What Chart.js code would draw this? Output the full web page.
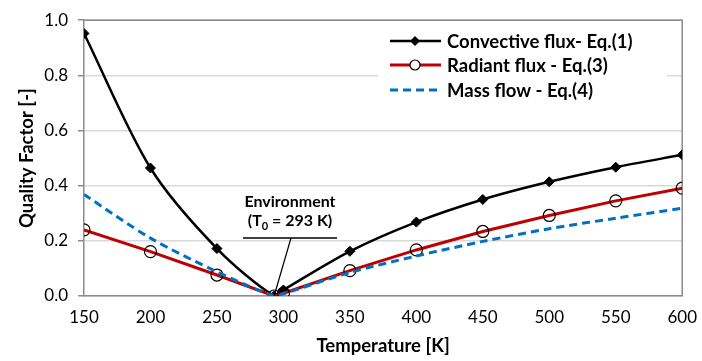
<!DOCTYPE html>
<html>
<head>
<meta charset="utf-8">
<script src="https://cdn.jsdelivr.net/npm/chart.js@4"></script>
<style>
  html, body { margin: 0; padding: 0; background: #fff; }
  #wrap { width: 702px; height: 361px; }
</style>
</head>
<body>
<div id="wrap"><canvas id="chart" width="702" height="361"></canvas></div>
<script>
  const TEMPS = [150, 200, 250, 293, 300, 350, 400, 450, 500, 550, 600];
  const CONVECTIVE = [0.952, 0.464, 0.172, 0.0, 0.022, 0.162, 0.268, 0.350, 0.414, 0.467, 0.512];
  const RADIANT = [0.240, 0.161, 0.076, 0.0, 0.010, 0.092, 0.167, 0.234, 0.292, 0.345, 0.391];
  const MASS = [0.368, 0.210, 0.088, 0.0, 0.008, 0.085, 0.145, 0.198, 0.244, 0.282, 0.318];
  const X_TICKS = [150, 200, 250, 300, 350, 400, 450, 500, 550, 600];
  const Y_TICKS = [0, 0.2, 0.4, 0.6, 0.8, 1.0];
  const LEGEND = ["Convective flux- Eq.(1)", "Radiant flux - Eq.(3)", "Mass flow - Eq.(4)"];

  const FONT = "Lato, 'Open Sans', sans-serif";
  const GRID = "#d9d9d9";
  const AXIS = "#8c8c8c";

  function points(ys) {
    return TEMPS.map((t, i) => ({ x: t, y: ys[i] }));
  }

  const extras = {
    id: "extras",
    afterDraw(chart) {
      const ctx = chart.ctx;
      const xs = chart.scales.x;
      const ys = chart.scales.y;

      // legend box
      ctx.save();
      ctx.fillStyle = "#fff";
      ctx.fillRect(378, 22, 289, 86);
      const rows = [41, 65, 90];
      ctx.font = "bold 18.5px " + FONT;
      ctx.textBaseline = "middle";
      ctx.fillStyle = "#000";
      rows.forEach((y, i) => ctx.fillText(LEGEND[i], 447, y + 1));

      ctx.lineWidth = 2.5;
      ctx.strokeStyle = "#000";
      ctx.beginPath(); ctx.moveTo(390, rows[0]); ctx.lineTo(441, rows[0]); ctx.stroke();
      ctx.fillStyle = "#000";
      ctx.beginPath();
      ctx.moveTo(415, rows[0] - 5); ctx.lineTo(420, rows[0]); ctx.lineTo(415, rows[0] + 5); ctx.lineTo(410, rows[0]);
      ctx.closePath(); ctx.fill();

      ctx.lineWidth = 3;
      ctx.strokeStyle = "#c00000";
      ctx.beginPath(); ctx.moveTo(390, rows[1]); ctx.lineTo(441, rows[1]); ctx.stroke();
      ctx.fillStyle = "#fff";
      ctx.strokeStyle = "#000";
      ctx.lineWidth = 1.2;
      ctx.beginPath(); ctx.arc(415, rows[1], 5, 0, Math.PI * 2); ctx.fill(); ctx.stroke();

      ctx.lineWidth = 3;
      ctx.strokeStyle = "#0070c0";
      ctx.setLineDash([8, 5]);
      ctx.beginPath(); ctx.moveTo(390, rows[2]); ctx.lineTo(441, rows[2]); ctx.stroke();
      ctx.setLineDash([]);

      // environment annotation
      const px = xs.getPixelForValue(293);
      const py = ys.getPixelForValue(0);
      ctx.fillStyle = "#000";
      ctx.textAlign = "center";
      ctx.font = "bold 16px " + FONT;
      ctx.fillText("Environment", 290, 202);
      const parts = ["(T", "0", " = 293 K)"];
      const w1 = ctx.measureText(parts[0]).width;
      const w3 = ctx.measureText(parts[2]).width;
      ctx.font = "bold 11px " + FONT;
      const w2 = ctx.measureText(parts[1]).width;
      const x0 = 290 - (w1 + w2 + w3) / 2;
      ctx.textAlign = "left";
      ctx.font = "bold 16px " + FONT;
      ctx.fillText(parts[0], x0, 221);
      ctx.font = "bold 11px " + FONT;
      ctx.fillText(parts[1], x0 + w1, 226);
      ctx.font = "bold 16px " + FONT;
      ctx.fillText(parts[2], x0 + w1 + w2, 221);

      ctx.strokeStyle = "#000";
      ctx.lineWidth = 1.5;
      ctx.beginPath(); ctx.moveTo(243, 238); ctx.lineTo(337, 238); ctx.stroke();
      ctx.lineWidth = 1.2;
      ctx.beginPath(); ctx.moveTo(291, 238); ctx.lineTo(px, py); ctx.stroke();
      ctx.restore();
    }
  };

  new Chart(document.getElementById("chart"), {
    type: "line",
    data: {
      datasets: [
        {
          label: LEGEND[0],
          data: points(CONVECTIVE),
          borderColor: "#000",
          backgroundColor: "#000",
          borderWidth: 2.5,
          pointStyle: "rectRot",
          pointRadius: 5,
          pointBorderWidth: 1,
          tension: 0.3,
          order: 2
        },
        {
          label: LEGEND[1],
          data: points(RADIANT),
          borderColor: "#c00000",
          backgroundColor: "#c00000",
          borderWidth: 3,
          pointStyle: "circle",
          pointRadius: 6,
          pointBorderWidth: 1.2,
          pointBorderColor: "#000",
          pointBackgroundColor: "rgba(255,255,255,0)",
          tension: 0,
          order: 1
        },
        {
          label: LEGEND[2],
          data: points(MASS),
          borderColor: "#0070c0",
          borderWidth: 3,
          borderDash: [8, 5],
          pointRadius: 0,
          tension: 0.3,
          order: 0
        }
      ]
    },
    options: {
      responsive: false,
      animation: false,
      layout: { padding: { top: 17, right: 17, left: 0, bottom: 0 } },
      plugins: { legend: { display: false }, tooltip: { enabled: false } },
      scales: {
        x: {
          type: "linear",
          min: 150,
          max: 600,
          afterBuildTicks(axis) { axis.ticks = X_TICKS.map((v) => ({ value: v })); },
          afterFit(axis) { axis.height = 65; },
          grid: { display: false, drawOnChartArea: false, drawTicks: true, tickLength: 6, tickColor: AXIS },
          border: { color: AXIS, width: 1.5 },
          ticks: { color: "#000", font: { family: FONT, size: 17 }, padding: 5, maxRotation: 0 },
          title: { display: true, text: "Temperature [K]", color: "#000", font: { family: FONT, size: 18.5, weight: "bold" }, padding: { top: 0 } }
        },
        y: {
          min: 0,
          max: 1,
          afterBuildTicks(axis) { axis.ticks = Y_TICKS.map((v) => ({ value: v })); },
          afterFit(axis) { axis.width = 84; },
          grid: { color: GRID, lineWidth: 1.5, tickLength: 6, tickColor: AXIS },
          border: { color: AXIS, width: 1.5 },
          ticks: { color: "#000", font: { family: FONT, size: 17 }, padding: 10, callback: (v) => v.toFixed(1) },
          title: { display: true, text: "Quality Factor [-]", color: "#000", font: { family: FONT, size: 18.5, weight: "bold" }, padding: { top: 16, bottom: 0 } }
        }
      }
    },
    plugins: [
      {
        id: "frame",
        beforeDatasetsDraw(chart) {
          const a = chart.chartArea;
          const ctx = chart.ctx;
          ctx.save();
          ctx.strokeStyle = AXIS;
          ctx.lineWidth = 1.5;
          ctx.beginPath();
          ctx.moveTo(a.left, a.top); ctx.lineTo(a.right, a.top); ctx.lineTo(a.right, a.bottom);
          ctx.stroke();
          ctx.restore();
        }
      },
      extras
    ]
  });
</script>
</body>
</html>
